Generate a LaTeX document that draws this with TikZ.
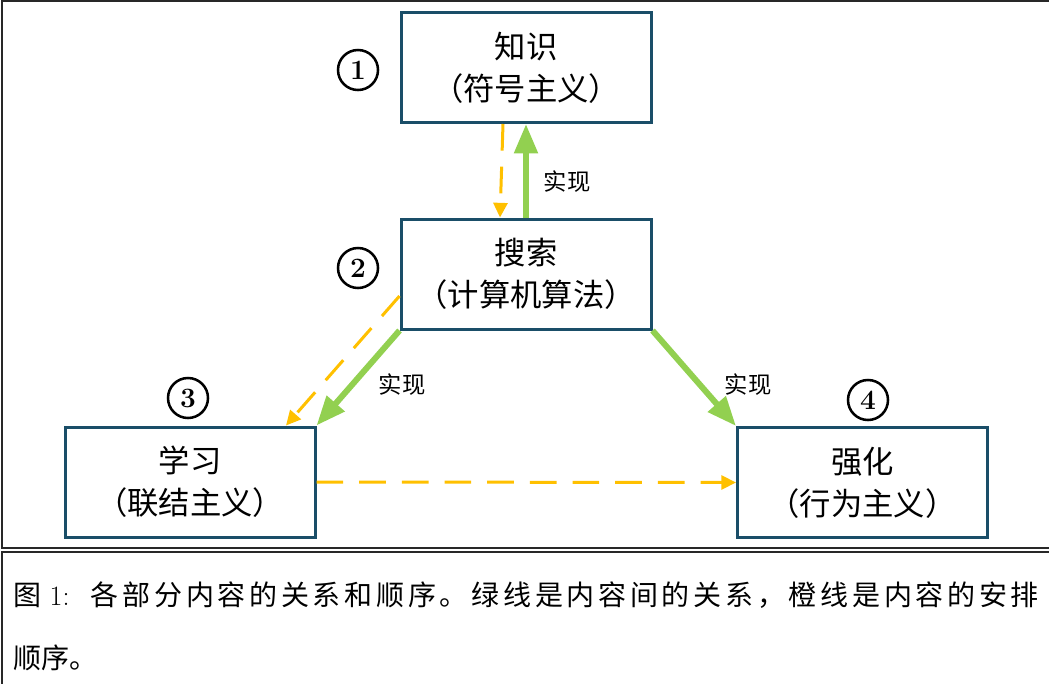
\documentclass[tikz,border=0pt]{standalone}
\usepackage{fontspec}
\usetikzlibrary{arrows.meta,calc}
\newfontfamily\cjk{Noto Sans CJK SC}
\newfontfamily\cjkls{Noto Sans CJK SC}[LetterSpace=13.3]
\definecolor{boxc}{RGB}{26,78,104}
\definecolor{grn}{RGB}{146,208,80}
\definecolor{org}{RGB}{255,192,0}
\definecolor{frm}{RGB}{40,40,40}
\begin{document}
\begin{tikzpicture}[x=0.75pt,y=-0.75pt,
  kbox/.style={draw=boxc, line width=2.25pt, minimum width=187.5pt, minimum height=82.5pt,
    inner sep=0pt, align=center, font=\cjk\fontsize{23.5pt}{31.5pt}\selectfont},
  numc/.style={circle, draw=black, line width=1.9pt, minimum size=30pt, inner sep=0pt,
    font=\fontsize{21pt}{24pt}\selectfont\bfseries},
  lab/.style={inner sep=0pt, font=\cjk\fontsize{17.5pt}{19pt}\selectfont},
  grnarrow/.style={draw=grn, line width=4.5pt, -{Triangle[length=22pt,width=17pt]}},
  orgarrow/.style={draw=org, line width=2.25pt, dash pattern=on 20pt off 12pt,
    -{Triangle[length=11pt,width=10.5pt]}},
  framestyle/.style={draw=frm, line width=1.1pt},
  captext/.style={inner sep=0pt, anchor=base west, font=\fontsize{21pt}{24pt}\selectfont}
]
\useasboundingbox (0,0) rectangle (1049,683);
% frames
\draw[framestyle] (1052,548) -- (2,548) -- (2,1) -- (1052,1);
\draw[framestyle] (1052,552) -- (2,552) -- (2,686);

% boxes
\node[kbox] (zs) at (526,67.5) {知识\\（符号主义）};
\node[kbox] (ss) at (526,274) {搜索\\（计算机算法）};
\node[kbox] (xx) at (190,482) {学习\\（联结主义）};
\node[kbox] (qh) at (862.5,482.5) {强化\\（行为主义）};

% circled numbers
\node[numc] (n1) at (358,70) {1};
\node[numc] (n2) at (358,268) {2};
\node[numc] (n3) at (188,398) {3};
\node[numc] (n4) at (868,400) {4};

% green arrows
\draw[grnarrow] (ss.north) -- (zs.south);
\draw[grnarrow] (ss.south west) -- (xx.north east);
\draw[grnarrow] (ss.south east) -- (qh.north west);

% orange arrows
\draw[orgarrow] ($(zs.south)+(-23,0)$) -- ($(ss.north)+(-26,0)$);
\draw[orgarrow] ($(ss.west)+(0,22)$) -- ($(xx.north)+(96,0)$);
\draw[orgarrow] (xx.east) -- (qh.west);

% labels
\node[lab] (l1) at (567,182) {实现};
\node[lab] (l2) at (402,385) {实现};
\node[lab] (l3) at (748,385) {实现};

% caption
\node[captext] (c1) at (13,605) {{\cjk 图}\ 1:\hspace{16pt}{\cjkls 各部分内容的关系和顺序。绿线是内容间的关系，橙线是内容的安排}};
\node[captext] (c2) at (13,668) {{\cjk 顺序。}};
\end{tikzpicture}
\end{document}
